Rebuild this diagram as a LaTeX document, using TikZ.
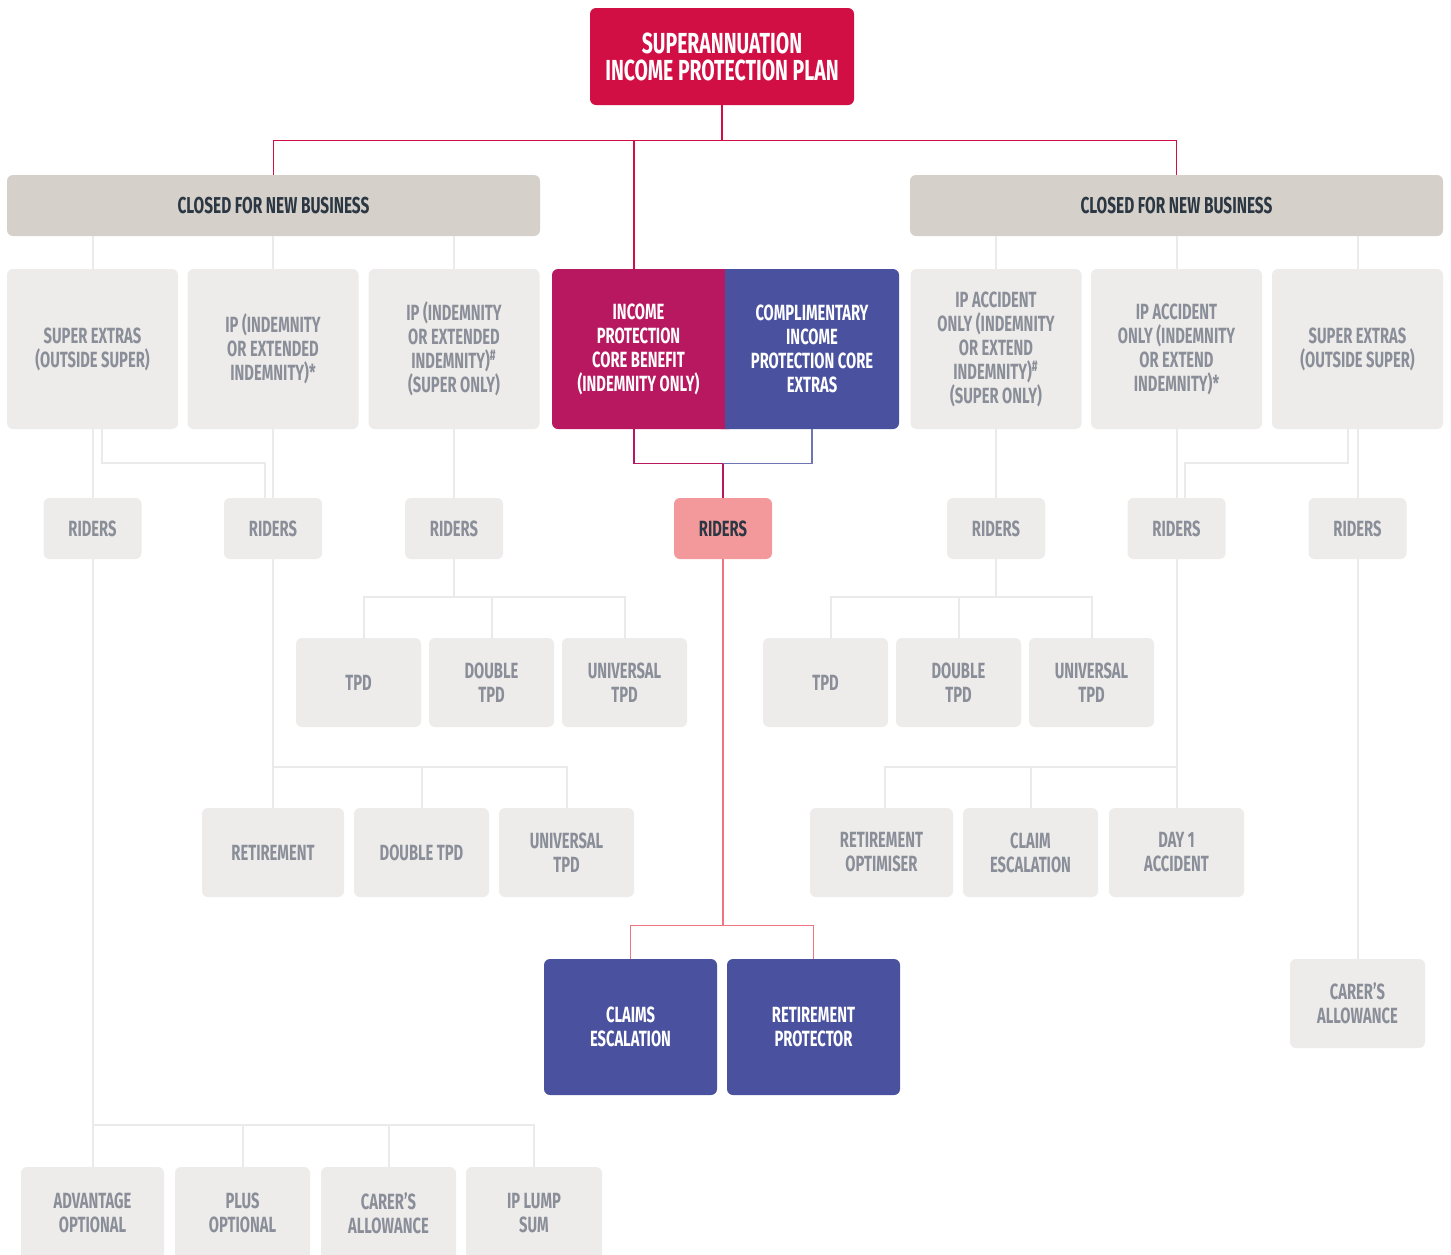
\documentclass[tikz,border=0pt]{standalone}
\usepackage{fontspec}
\setmainfont{Fira Sans}[FakeStretch=0.67]
\definecolor{planred}{HTML}{D10F44}
\definecolor{closedfill}{HTML}{D5D0CA}
\definecolor{darktext}{HTML}{2B3742}
\definecolor{optfill}{HTML}{EDECEB}
\definecolor{opttext}{HTML}{8A8E98}
\definecolor{coremag}{HTML}{B8185F}
\definecolor{coreblue}{HTML}{4A52A0}
\definecolor{riderpink}{HTML}{F4999B}
\definecolor{linegray}{HTML}{EAEAEA}
\definecolor{linepink}{HTML}{EF7480}
\tikzset{
  chartbox/.style={rounded corners=3pt, align=center, inner sep=2pt,
    font=\bfseries\fontsize{11}{12}\selectfont},
  planbox/.style={chartbox, fill=planred, text=white,
    font=\bfseries\fontsize{14.5}{13.5}\selectfont},
  closedbox/.style={chartbox, fill=closedfill, text=darktext,
    minimum width=266.5pt, minimum height=30.5pt,
    font=\bfseries\fontsize{11.5}{12}\selectfont},
  optbox/.style={chartbox, fill=optfill, text=opttext},
  coretext/.style={chartbox, text=white, minimum height=80pt},
  riderbox/.style={optbox, minimum width=49pt, minimum height=30.5pt},
  prodbox/.style={optbox, minimum width=85.5pt, minimum height=80pt},
  tpdbox/.style={optbox, minimum width=62.5pt, minimum height=44.5pt},
  lowbox/.style={optbox, minimum width=67.5pt, minimum height=44.5pt},
  extrabox/.style={chartbox, fill=coreblue, text=white,
    minimum width=86.5pt, minimum height=68pt},
  grayline/.style={draw=linegray, line width=1pt},
  redline/.style={draw=planred, line width=0.8pt},
  pinkline/.style={draw=linepink, line width=0.8pt}
}
\begin{document}
\begin{tikzpicture}[x=0.5pt,y=-0.5pt]
  \clip (0,0) rectangle (1451,1254);
  \fill[white] (0,0) rectangle (1451,1254);

  \node[planbox, minimum width=132pt, minimum height=48.5pt] (plan) at (722,56.5)
    {SUPERANNUATION\\INCOME PROTECTION PLAN};
  \node[closedbox] (closedL) at (273.5,205.5) {CLOSED FOR NEW BUSINESS};
  \node[closedbox] (closedR) at (1176.5,205.5) {CLOSED FOR NEW BUSINESS};

  \node[prodbox] (sxL) at (92.5,349) {SUPER EXTRAS\\(OUTSIDE SUPER)};
  \node[prodbox] (ipL) at (273,349) {IP (INDEMNITY\\OR EXTENDED\\INDEMNITY)*};
  \node[prodbox] (ipsL) at (454,349)
    {IP (INDEMNITY\\OR EXTENDED\\INDEMNITY)\textsuperscript{\#}\\(SUPER ONLY)};
  \fill[coreblue, rounded corners=3pt] (715,269) rectangle (899,429);
  \fill[coremag, rounded corners=3pt] (552,269) rectangle (735,429);
  \fill[coreblue] (725,269) rectangle (735,429);
  \node[coretext, minimum width=86.5pt] (core) at (638.5,349)
    {INCOME\\PROTECTION\\CORE BENEFIT\\(INDEMNITY ONLY)};
  \node[coretext, minimum width=87pt] (compl) at (812,349)
    {COMPLIMENTARY\\INCOME\\PROTECTION CORE\\EXTRAS};
  \node[prodbox] (ipaL) at (996,349)
    {IP ACCIDENT\\ONLY (INDEMNITY\\OR EXTEND\\INDEMNITY)\textsuperscript{\#}\\(SUPER ONLY)};
  \node[prodbox] (ipaS) at (1176.5,349)
    {IP ACCIDENT\\ONLY (INDEMNITY\\OR EXTEND\\INDEMNITY)*};
  \node[prodbox] (sxR) at (1357.5,349) {SUPER EXTRAS\\(OUTSIDE SUPER)};

  \node[riderbox] (r1) at (92.5,528.5) {RIDERS};
  \node[riderbox] (r2) at (273,528.5) {RIDERS};
  \node[riderbox] (r3) at (454,528.5) {RIDERS};
  \node[riderbox, fill=riderpink, text=darktext] (rc) at (723,528.5) {RIDERS};
  \node[riderbox] (r5) at (996,528.5) {RIDERS};
  \node[riderbox] (r6) at (1176.5,528.5) {RIDERS};
  \node[riderbox] (r7) at (1357.5,528.5) {RIDERS};

  \node[tpdbox] (tpdL) at (358.5,682.5) {TPD};
  \node[tpdbox] (dtpdL) at (491.5,682.5) {DOUBLE\\TPD};
  \node[tpdbox] (utpdL) at (624.5,682.5) {UNIVERSAL\\TPD};
  \node[tpdbox] (tpdR) at (825.5,682.5) {TPD};
  \node[tpdbox] (dtpdR) at (958.5,682.5) {DOUBLE\\TPD};
  \node[tpdbox] (utpdR) at (1091.5,682.5) {UNIVERSAL\\TPD};

  \node[lowbox, minimum width=71pt] (ret) at (273,852.5) {RETIREMENT};
  \node[lowbox] (dtpdB) at (421.5,852.5) {DOUBLE TPD};
  \node[lowbox] (utpdB) at (566.5,852.5) {UNIVERSAL\\TPD};
  \node[lowbox, minimum width=71.5pt] (retopt) at (881.5,852.5) {RETIREMENT\\OPTIMISER};
  \node[lowbox] (claimesc) at (1030.5,852.5) {CLAIM\\ESCALATION};
  \node[lowbox] (day1) at (1176.5,852.5) {DAY 1\\ACCIDENT};

  \node[extrabox] (claims) at (630.5,1027) {CLAIMS\\ESCALATION};
  \node[extrabox] (retprot) at (813.5,1027) {RETIREMENT\\PROTECTOR};
  \node[lowbox] (carerR) at (1357.5,1003.5) {CARER'S\\ALLOWANCE};

  \node[lowbox, minimum width=71.5pt, minimum height=46pt] (adv) at (92.5,1213) {ADVANTAGE\\OPTIONAL};
  \node[lowbox, minimum height=46pt] (plus) at (242.5,1213) {PLUS\\OPTIONAL};
  \node[lowbox, minimum height=46pt] (carerB) at (388.5,1213) {CARER'S\\ALLOWANCE};
  \node[lowbox, minimum width=68pt, minimum height=46pt] (lump) at (534,1213) {IP LUMP\\SUM};

  \begin{scope}[redline]
    \draw (plan.south) -- ++(0,35) -| (closedL.north);
    \draw (plan.south) -- ++(0,35) -| (closedR.north);
    \draw (plan.south) -- ++(0,35) -| ([xshift=-2.25pt]core.north);
  \end{scope}

  \begin{scope}[grayline]
    \foreach \n in {sxL,ipL,ipsL}
      \draw (closedL.south -| \n.north) -- (\n.north);
    \foreach \n in {ipaL,ipaS,sxR}
      \draw (closedR.south -| \n.north) -- (\n.north);
    \draw (sxL.south) -- (r1.north);
    \draw ([xshift=4.5pt]sxL.south) -- ++(0,34) -| ([xshift=-4pt]r2.north);
    \draw (ipL.south) -- (r2.north);
    \draw (ipsL.south) -- (r3.north);
    \draw (ipaL.south) -- (r5.north);
    \draw (ipaS.south) -- (r6.north);
    \draw (sxR.south) -- (r7.north);
    \draw ([xshift=-4.75pt]sxR.south) -- ++(0,34) -| ([xshift=4.25pt]r6.north);
    \draw (r3.south) -- ++(0,38) -| ([xshift=2.75pt]tpdL.north);
    \draw (r3.south) -- ++(0,38) -| (dtpdL.north);
    \draw (r3.south) -- ++(0,38) -| (utpdL.north);
    \draw (r5.south) -- ++(0,38) -| ([xshift=2.75pt]tpdR.north);
    \draw (r5.south) -- ++(0,38) -| (dtpdR.north);
    \draw (r5.south) -- ++(0,38) -| (utpdR.north);
    \draw (r2.south) -- ++(0,208) -| (ret.north);
    \draw (r2.south) -- ++(0,208) -| (dtpdB.north);
    \draw (r2.south) -- ++(0,208) -| (utpdB.north);
    \draw (r6.south) -- ++(0,208) -| ([xshift=1.75pt]retopt.north);
    \draw (r6.south) -- ++(0,208) -| (claimesc.north);
    \draw (r6.south) -- ++(0,208) -| (day1.north);
    \draw (r7.south) -- (carerR.north);
    \draw (r1.south) -- ++(0,566) -| (adv.north);
    \draw (r1.south) -- ++(0,566) -| (plus.north);
    \draw (r1.south) -- ++(0,566) -| (carerB.north);
    \draw (r1.south) -- ++(0,566) -| (lump.north);
  \end{scope}

  \coordinate (join) at (723,463.5);
  \draw[draw=coremag, line width=0.8pt] ([xshift=-2.25pt]core.south) |- (join) -- (rc.north);
  \draw[draw=coreblue!80, line width=0.8pt] (compl.south) |- (join);
  \begin{scope}[pinkline]
    \draw (rc.south) -- ++(0,366) -| (claims.north);
    \draw (rc.south) -- ++(0,366) -| (retprot.north);
  \end{scope}
\end{tikzpicture}
\end{document}
